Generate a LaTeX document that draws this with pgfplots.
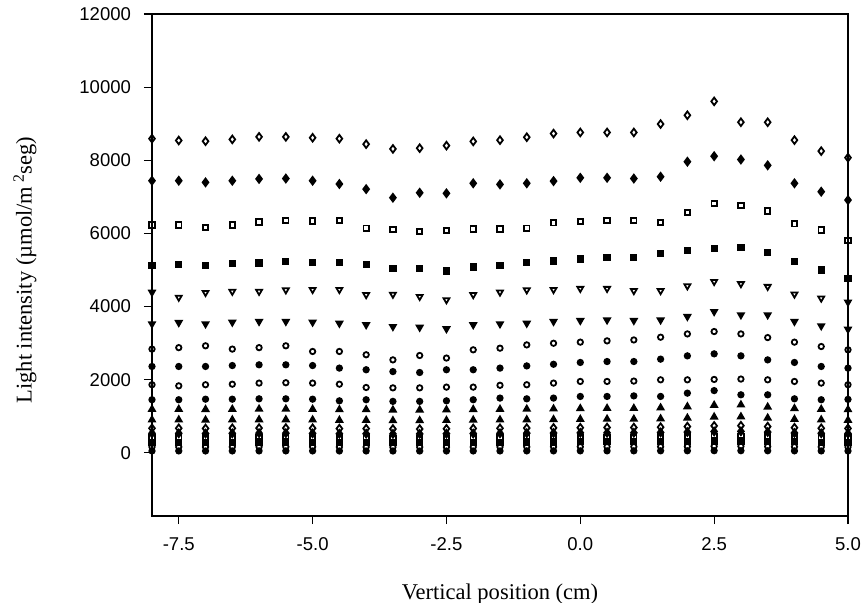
\documentclass[border=0pt]{standalone}
\usepackage{fontspec}
\setmainfont{Liberation Serif}
\newfontfamily\ticksfont{Liberation Sans}
\usepackage{pgfplots}
\pgfplotsset{compat=1.18}
\usepackage{pgfplotstable}

\pgfplotstableread{
x    s1   s2   s3   s4   s5   s6   s7   s8   s9   s10  s11  s12 s13 s14 s15 s16 s17 s18
-8.0 8590 7440 6230 5120 4390 3525 2835 2360 1860 1450 1190 900 670 530 410 290 160 50
-7.5 8540 7440 6230 5145 4250 3560 2875 2360 1830 1450 1190 900 670 530 410 290 160 50
-7.0 8520 7395 6165 5130 4380 3525 2925 2360 1860 1465 1185 895 665 525 405 285 158 49
-6.5 8570 7440 6230 5165 4410 3570 2835 2385 1875 1465 1190 900 670 530 410 290 160 50
-6.0 8640 7490 6310 5190 4410 3590 2875 2405 1905 1475 1195 905 675 535 415 295 162 51
-5.5 8640 7500 6350 5230 4450 3590 2925 2405 1915 1475 1195 905 675 535 415 295 162 51
-5.0 8615 7440 6340 5210 4460 3570 2770 2385 1905 1465 1190 900 670 530 410 290 160 50
-4.5 8590 7350 6350 5200 4460 3540 2770 2315 1875 1420 1180 890 660 520 405 285 157 49
-4.0 8440 7210 6140 5145 4320 3500 2680 2270 1785 1450 1180 890 660 520 405 285 157 49
-3.5 8310 6975 6110 5030 4330 3450 2540 2220 1775 1405 1170 880 650 515 400 280 155 48
-3.0 8330 7110 6050 5030 4270 3430 2660 2195 1775 1405 1170 880 650 515 400 280 155 48
-2.5 8400 7095 6075 4970 4180 3390 2590 2270 1795 1420 1175 885 655 520 400 280 155 48
-2.0 8515 7370 6120 5080 4320 3500 2815 2270 1795 1450 1185 895 665 525 405 285 158 49
-1.5 8550 7340 6120 5130 4390 3525 2860 2315 1845 1495 1190 900 670 530 410 290 160 50
-1.0 8630 7370 6140 5210 4450 3540 2950 2375 1860 1475 1195 905 675 535 415 295 162 51
-0.5 8730 7430 6290 5245 4460 3590 2995 2420 1905 1495 1200 910 680 540 415 295 163 51
0.0  8760 7520 6320 5300 4490 3615 3025 2470 1950 1540 1210 915 685 545 420 300 165 52
0.5  8760 7520 6350 5330 4490 3630 3060 2495 1950 1540 1215 920 690 545 420 300 165 52
1.0  8760 7500 6350 5345 4430 3615 3085 2495 1960 1555 1215 920 690 545 420 300 165 52
1.5  8990 7550 6300 5455 4430 3630 3160 2560 1995 1540 1230 930 700 555 430 305 168 53
2.0  9230 7960 6570 5530 4560 3725 3250 2650 1995 1630 1260 950 715 565 440 310 172 54
2.5  9610 8110 6820 5590 4680 3860 3315 2705 2005 1700 1300 980 735 580 450 320 178 56
3.0  9040 8020 6760 5610 4620 3770 3250 2650 2015 1585 1310 985 740 585 455 320 178 56
3.5  9040 7860 6610 5470 4545 3770 3150 2540 1995 1585 1250 950 715 565 440 310 172 54
4.0  8550 7370 6260 5230 4335 3590 3025 2470 1950 1475 1210 915 685 540 420 300 165 52
4.5  8250 7140 6090 5000 4225 3470 2905 2360 1905 1450 1190 900 670 530 410 290 160 50
5.0  8070 6910 5800 4770 4120 3380 2815 2315 1860 1460 1180 890 665 525 405 285 158 49
}\data

\begin{document}
\begin{tikzpicture}
\begin{axis}[
  scale only axis,
  width=348bp, height=251bp,
  xmin=-8, xmax=5, ymin=-1730, ymax=12000,
  xtick={-7.5,-5,-2.5,0,2.5,5},
  xticklabels={-7.5,-5.0,-2.5,0.0,2.5,5.0},
  ytick={0,2000,4000,6000,8000,10000,12000},
  scaled y ticks=false,
  /pgf/number format/1000 sep={},
  /pgf/number format/assume math mode=true,
  tick align=outside,
  tick pos=left,
  major tick length=4bp,
  every tick/.style={black, line width=0.6pt},
  axis line style={black, line width=0.7pt},
  ticklabel style={font=\fontsize{9.3}{11}\ticksfont},
  xticklabel style={anchor=base, yshift=-13bp},
  yticklabel style={anchor=east, xshift=-3bp},
  every axis x label/.style={at={(axis description cs:0.5,0)}, anchor=center, yshift=-39bp, font=\fontsize{11.3}{13}\selectfont},
  every axis y label/.style={at={(axis description cs:-0.1825,0.49)}, anchor=center, rotate=90, font=\fontsize{11.3}{13}\selectfont},
  xlabel={Vertical position (cm)},
  ylabel={Light intensity (µmol/m\,\textsuperscript{2}seg)},
  clip=false,
  every axis plot/.append style={only marks, black, line width=0.9pt},
]
\addplot[mark=diamond, mark size=1.9bp, mark options={fill=white}] table[x=x,y=s1] {\data};
\addplot[mark=diamond*, mark size=1.9bp, mark options={fill=black}] table[x=x,y=s2] {\data};
\addplot[mark=square, mark size=1.35bp, mark options={fill=white}] table[x=x,y=s3] {\data};
\addplot[mark=square*, mark size=1.35bp, mark options={fill=black}] table[x=x,y=s4] {\data};
\addplot[mark=triangle, mark size=1.7bp, mark options={fill=white, rotate=180}] table[x=x,y=s5] {\data};
\addplot[mark=triangle*, mark size=1.7bp, mark options={fill=black, rotate=180}] table[x=x,y=s6] {\data};
\addplot[mark=o, mark size=1.35bp, mark options={fill=white}] table[x=x,y=s7] {\data};
\addplot[mark=*, mark size=1.35bp, mark options={fill=black}] table[x=x,y=s8] {\data};
\addplot[mark=o, mark size=1.35bp, mark options={fill=white}] table[x=x,y=s9] {\data};
\addplot[mark=*, mark size=1.35bp, mark options={fill=black}] table[x=x,y=s10] {\data};
\addplot[mark=triangle*, mark size=1.7bp, mark options={fill=black}] table[x=x,y=s11] {\data};
\addplot[mark=triangle*, mark size=1.7bp, mark options={fill=black}] table[x=x,y=s12] {\data};
\addplot[mark=diamond, mark size=1.9bp, mark options={fill=white}] table[x=x,y=s13] {\data};
\addplot[mark=diamond*, mark size=1.9bp, mark options={fill=black}] table[x=x,y=s14] {\data};
\addplot[mark=square, mark size=1.35bp, mark options={fill=white}] table[x=x,y=s15] {\data};
\addplot[mark=square*, mark size=1.35bp, mark options={fill=black}] table[x=x,y=s16] {\data};
\addplot[mark=o, mark size=1.35bp, mark options={fill=white}] table[x=x,y=s17] {\data};
\addplot[mark=*, mark size=1.35bp, mark options={fill=black}] table[x=x,y=s18] {\data};
\end{axis}
\pgfresetboundingbox
\path[use as bounding box] (-76bp,-43.5bp) rectangle (355.5bp,258bp);
\end{tikzpicture}
\end{document}
